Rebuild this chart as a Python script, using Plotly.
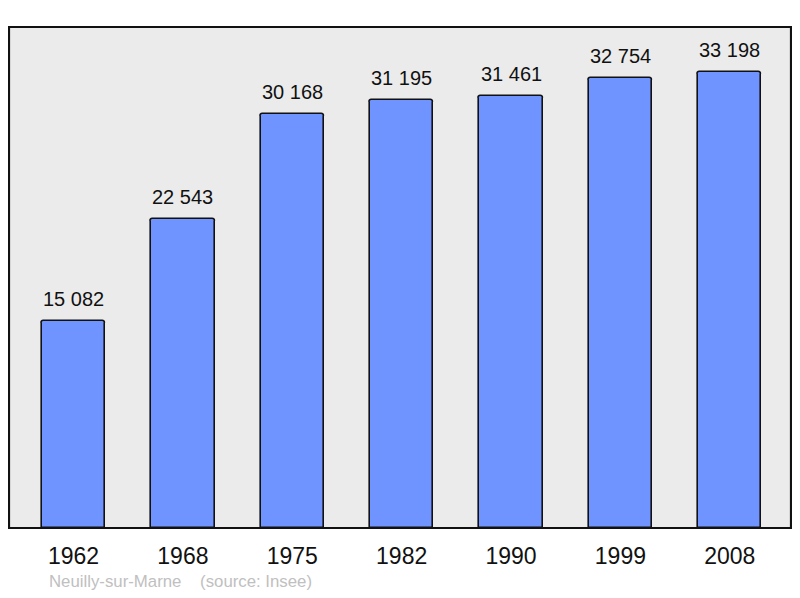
import plotly.graph_objects as go

years = ["1962", "1968", "1975", "1982", "1990", "1999", "2008"]
population = [15082, 22543, 30168, 31195, 31461, 32754, 33198]

def fmt(v):
    return f"{v:,}".replace(",", " ")

fig = go.Figure()
fig.add_trace(go.Bar(
    x=list(range(len(years))), y=population,
    width=0.58,
    marker=dict(color="#7094ff", line=dict(color="#111111", width=1.6), cornerradius=3),
    hoverinfo="skip",
))

for i, v in enumerate(population):
    fig.add_annotation(x=i, y=v, text=fmt(v), showarrow=False, yanchor="bottom",
                       yshift=9, font=dict(size=20, color="#111111", family="Liberation Sans, Arial"))

fig.add_annotation(xref="paper", yref="paper", x=(47-9)/782, y=-(581-528)/501,
                   xanchor="left", yanchor="middle", showarrow=False,
                   text="Neuilly-sur-Marne&nbsp;&nbsp;&nbsp;&nbsp;(source: Insee)",
                   font=dict(size=16.8, color="#c0c0c0", family="Liberation Sans, Arial"))

fig.add_shape(type="rect", xref="paper", yref="paper", x0=0, y0=0, x1=1, y1=1,
              line=dict(color="#111111", width=2.2), layer="above")

fig.update_layout(
    width=784, height=582,
    margin=dict(l=1, r=1, t=19, b=62),
    paper_bgcolor="white", plot_bgcolor="#ebebeb",
    showlegend=False,
    bargap=0,
    xaxis=dict(range=[-0.59, 6.56], tickmode="array", tickvals=list(range(len(years))),
               ticktext=years, showgrid=False, zeroline=False, ticks="outside",
               ticklen=7, tickcolor="rgba(0,0,0,0)",
               tickfont=dict(size=23, color="#111111", family="Liberation Sans, Arial")),
    yaxis=dict(range=[0, 36500], showgrid=False, zeroline=False, showticklabels=False),
)

fig.write_html("out.html")
